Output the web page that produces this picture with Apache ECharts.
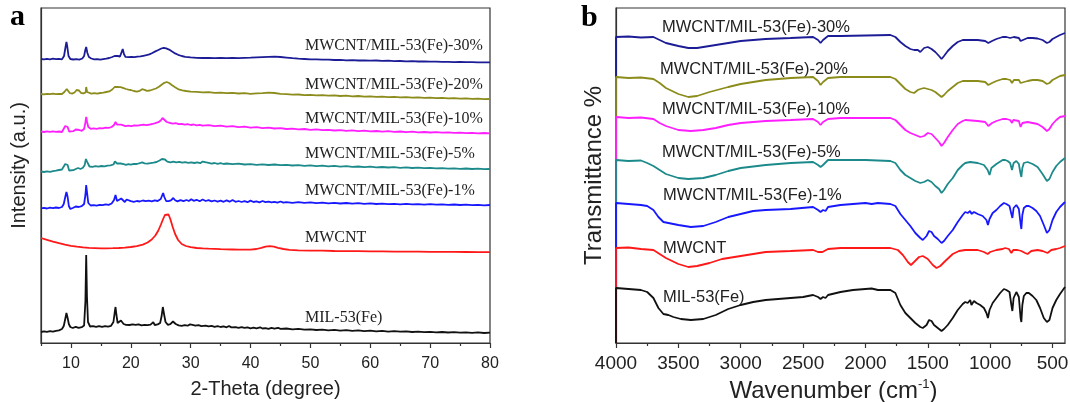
<!DOCTYPE html>
<html><head><meta charset="utf-8">
<script src="https://cdn.jsdelivr.net/npm/echarts@6/dist/echarts.min.js"></script>
<style>html,body{margin:0;padding:0;background:#fff}#c{width:1070px;height:402px}</style>
</head><body><div id="c"></div>
<script>
// ---------- DATA ----------
const seriesNames = ['MWCNT/MIL-53(Fe)-30%','MWCNT/MIL-53(Fe)-20%','MWCNT/MIL-53(Fe)-10%','MWCNT/MIL-53(Fe)-5%','MWCNT/MIL-53(Fe)-1%','MWCNT','MIL-53(Fe)'];
const seriesColors = ['#1c1c96','#8c8c1c','#ff1eff','#1c8a8a','#1818ff','#ff1818','#111111'];

const xrdTicks = [10,20,30,40,50,60,70,80];
const xrdMinorTicks = [5,15,25,35,45,55,65,75];
const irTicks = [4000,3500,3000,2500,2000,1500,1000,500];
const irMinorTicks = [3750,3250,2750,2250,1750,1250,750];

// XRD (2-theta, offset intensity a.u.)
const xrd30 = [[5,284],[5.5,283.6],[6,284.2],[6.5,283.7],[7,284.3],[7.5,283.8],[8,284.1],[8.5,283.6],[8.85,287],[9.1,296],[9.25,301],[9.4,296],[9.6,287],[9.9,284],[10.4,283.5],[10.9,283.8],[11.4,283.3],[11.9,284.5],[12.2,287],[12.4,293],[12.55,296],[12.75,290],[13,286],[13.4,284.5],[13.9,283.6],[14.4,283.9],[14.9,283.3],[15.4,283.8],[15.9,284.3],[16.4,285],[16.9,286],[17.3,287],[17.55,288.5],[17.8,287],[18.2,286.5],[18.45,288],[18.65,294],[18.85,289],[19.1,286.2],[19.6,285.8],[20.1,286.2],[20.6,285.9],[21.1,286.4],[21.6,286.6],[22.1,287.2],[22.6,287.8],[23.1,288.6],[23.6,290],[24.1,291.6],[24.6,293],[25.1,294.5],[25.5,295.2],[25.9,294.6],[26.4,293.4],[26.9,291.4],[27.4,289.6],[27.9,288.2],[28.5,287],[29.1,286.2],[30,285.6],[31,285.2],[32,285],[33,285.2],[34,284.9],[35,285],[36,284.8],[37,285.1],[38,284.9],[39,285.2],[40,285.3],[41,285.6],[42,285.9],[43,286.2],[44,286.3],[45,286],[46,285.4],[47,284.8],[48,284.3],[49,284],[50,283.6],[51,283.7],[52,283.3],[53,283.4],[54,283],[55,283.1],[56,282.7],[57,282.9],[58,282.5],[59,282.7],[60,282.3],[61,282.5],[62,282.1],[63,282.3],[64,281.9],[65,282],[66,281.7],[67,281.8],[68,281.5],[69,281.6],[70,281.3],[71,281.4],[72,281.1],[73,281.2],[74,280.9],[75,281],[76,280.8],[77,280.9],[78,280.6],[79,280.7],[80,280.6]];
const xrd20 = [[5,249],[5.5,248.6],[6,249.2],[6.5,248.8],[7,249.3],[7.5,248.9],[8,249.2],[8.5,249],[8.9,251],[9.15,253],[9.3,254],[9.5,252],[9.8,250],[10.2,249.4],[10.6,250.5],[10.95,253],[11.15,255],[11.35,252.5],[11.7,250],[12.1,249.6],[12.45,250.5],[12.55,256],[12.62,257],[12.7,251],[12.9,249.8],[13.4,249.4],[13.9,249.8],[14.4,249.3],[14.9,250],[15.4,250.3],[15.9,251],[16.4,251.6],[16.9,253.5],[17.3,256],[17.5,258],[17.7,256],[18,255],[18.3,255.8],[18.55,256],[18.8,254.8],[19.2,254],[19.6,253.4],[20,253],[20.5,252],[21,251.4],[21.5,252.2],[21.9,253.8],[22.3,253.2],[22.7,252.2],[23.2,252.5],[23.7,253.5],[24.2,254.5],[24.7,256.2],[25.2,258.5],[25.6,260.2],[26,261],[26.4,260],[26.9,257.8],[27.4,255.8],[28,253.6],[28.6,252.6],[29.2,252],[30,251.4],[31,251.2],[32,250.6],[33,250.8],[34,250.2],[35,250.4],[36,249.8],[37,250.1],[38,249.5],[39,249.8],[40,249.2],[41,249.6],[42,249.8],[43,250.3],[44,250],[45,249.2],[46,248.8],[47,248.3],[48,248.5],[49,247.9],[50,248.2],[51,247.6],[52,247.9],[53,247.3],[54,247.6],[55,247],[56,247.3],[57,246.7],[58,247],[59,246.4],[60,246.7],[61,246.1],[62,246.4],[63,245.9],[64,246.1],[65,245.6],[66,245.9],[67,245.3],[68,245.6],[69,245.1],[70,245.3],[71,244.9],[72,245.1],[73,244.6],[74,244.9],[75,244.4],[76,244.6],[77,244.1],[78,244.4],[79,243.9],[80,244]];
const xrd10 = [[5,211.5],[5.5,211],[6,211.6],[6.5,211.1],[7,211.7],[7.5,211.2],[8,211.5],[8.5,211],[8.8,213],[9.05,217],[9.25,219],[9.45,216],[9.7,211.5],[10,211],[10.4,211.8],[10.8,213.5],[11.1,215],[11.4,213],[11.8,212.2],[12.2,214],[12.4,220],[12.55,226],[12.7,221],[12.9,216],[13.3,214.2],[13.8,214.6],[14.3,214.2],[14.8,214.9],[15.3,214.6],[15.8,215.3],[16.3,215.1],[16.8,216],[17.2,218],[17.45,221],[17.7,218.5],[18,217],[18.4,218.3],[18.7,217.5],[19.1,216.8],[19.6,217.3],[20.1,216.9],[20.6,217.6],[21.1,217.3],[21.6,217.9],[22.1,218.3],[22.6,217.8],[23.1,218.4],[23.6,219],[24.1,219.8],[24.6,220.8],[25,222.5],[25.3,225],[25.6,223],[26,221],[26.5,220.2],[27,219.4],[27.5,219.8],[28,218.9],[28.5,219.2],[29,218.4],[29.5,218.8],[30,218],[30.5,218.5],[31,217.6],[31.5,218.1],[32,217.3],[33,217.8],[34,216.9],[35,217.3],[36,216.4],[37,216.8],[38,215.9],[39,216.3],[40,215.4],[41,215.8],[42,214.9],[43,215.3],[44,214.5],[45,214.8],[46,214],[47,214.4],[48,213.6],[49,214],[50,213.2],[51,213.6],[52,212.9],[53,213.2],[54,212.5],[55,212.9],[56,212.2],[57,212.6],[58,211.9],[59,212.3],[60,211.7],[61,212],[62,211.4],[63,211.8],[64,211.2],[65,211.5],[66,210.9],[67,211.3],[68,210.7],[69,211],[70,210.5],[71,210.8],[72,210.3],[73,210.6],[74,210.1],[75,210.4],[76,209.9],[77,210.2],[78,209.7],[79,210],[80,209.6]];
const xrd5 = [[5,171.5],[5.5,171],[6,171.6],[6.5,171.2],[7,171.9],[7.5,172.3],[8,173],[8.5,173.5],[8.8,175.5],[9.05,179],[9.25,181],[9.45,178],[9.7,172.5],[10,171.5],[10.4,172.8],[10.8,174],[11.2,175],[11.6,174],[12,175.2],[12.3,178],[12.5,184],[12.62,185],[12.8,180],[13.1,176.5],[13.6,176.2],[14.1,176.8],[14.6,176.3],[15.1,177],[15.6,176.6],[16.1,177.3],[16.6,177.6],[17.1,178.5],[17.35,181.5],[17.5,182.5],[17.7,179.5],[18,178],[18.3,179.5],[18.55,180.3],[18.8,178.8],[19.2,178.2],[19.6,178.9],[20,178.4],[20.5,179.2],[21,179],[21.5,179.8],[21.9,180.6],[22.3,179.6],[22.8,179.3],[23.3,179.8],[23.8,180.3],[24.3,181],[24.8,182.5],[25.2,184],[25.45,185],[25.7,183.5],[26.1,181.3],[26.6,180.6],[27.1,181.4],[27.6,180.7],[28.1,181.2],[28.6,180.3],[29.1,180.9],[29.6,180.2],[30.1,180.7],[30.6,180],[31.1,180.6],[31.6,179.8],[32,181.4],[32.3,179.7],[33,180.2],[33.5,179.4],[34,180],[34.5,179.2],[35,179.8],[35.5,179],[36,179.5],[37,178.8],[38,179.3],[39,178.5],[40,178.9],[41,178.2],[42,178.7],[43,178],[44,178.5],[45,177.8],[46,178.2],[47,177.5],[48,177.9],[49,177.2],[50,177.6],[51,176.9],[52,177.3],[53,176.7],[54,177.1],[55,176.4],[56,176.8],[57,176.2],[58,176.5],[59,175.9],[60,176.3],[61,175.7],[62,176],[63,175.5],[64,175.8],[65,175.2],[66,175.6],[67,175],[68,175.3],[69,174.8],[70,175.1],[71,174.6],[72,174.9],[73,174.4],[74,174.7],[75,174.2],[76,174.5],[77,174],[78,174.3],[79,173.8],[80,174]];
const xrd1 = [[5,134.7],[5.5,135.2],[6,134.5],[6.5,135.3],[7,134.8],[7.5,135.5],[8,135],[8.5,136],[8.8,139],[9.05,146],[9.25,151],[9.45,146],[9.65,137],[9.9,134],[10.3,135],[10.8,136.5],[11.3,136],[11.8,136.8],[12.2,139],[12.42,148],[12.55,158],[12.7,150],[12.9,140],[13.3,137.5],[13.8,137.8],[14.3,137.3],[14.8,138.2],[15.3,137.8],[15.8,138.6],[16.3,138.2],[16.8,139.5],[17.2,143],[17.45,148],[17.7,142],[18,141],[18.4,144.5],[18.7,142.5],[19,141],[19.3,143.5],[19.6,141.5],[20,141.8],[20.5,141.2],[21,142],[21.5,141.5],[22,142.5],[22.5,141.8],[23,142.3],[23.5,141.7],[24,142.6],[24.5,142],[25,144],[25.2,147],[25.4,150],[25.6,146],[25.9,142],[26.3,141.8],[26.7,142.6],[27.1,145],[27.4,142.8],[27.8,141.6],[28.3,142.8],[28.8,141.8],[29.3,143],[29.7,142],[30.1,143.8],[30.5,142.2],[31,143.2],[31.5,141.8],[32,143.5],[32.5,142],[33,142.8],[33.5,141.6],[34,142.5],[34.5,141.4],[35,142.3],[35.5,141.2],[36,142.6],[36.5,141.3],[37,143],[37.5,141.2],[38,142],[38.5,141],[39,141.8],[39.5,140.8],[40,142.4],[40.5,141],[41,141.6],[41.5,140.7],[42,142],[42.5,140.8],[43,141.4],[43.5,140.6],[44,141.2],[44.5,140.4],[45,141.5],[45.5,140.3],[46,140.9],[47,140.2],[48,140.8],[49,140.1],[50,140.6],[51,139.9],[52,140.4],[53,139.7],[54,140.2],[55,139.5],[56,140],[57,139.4],[58,139.8],[59,139.2],[60,139.6],[61,139],[62,139.4],[63,138.8],[64,139.2],[65,138.7],[66,139.1],[67,138.6],[68,138.9],[69,138.4],[70,138.8],[71,138.3],[72,138.6],[73,138.1],[74,138.5],[75,138],[76,138.3],[77,137.9],[78,138.2],[79,137.7],[80,138]];
const xrdMWCNT = [[5,105],[6,103.2],[7,101.4],[8,99.8],[9,98.4],[10,97.2],[11,96.3],[12,95.6],[13,95.2],[14,94.9],[15,94.6],[16,94.7],[17,94.8],[18,95],[19,95.4],[20,96],[21,96.9],[22,98.4],[22.8,100.5],[23.5,103.5],[24.1,107.5],[24.6,112.5],[25,118],[25.4,124],[25.7,128],[26,130],[26.3,128.5],[26.6,124],[27,116],[27.4,109],[27.9,103],[28.5,99],[29.2,97],[30,95.8],[31,95],[32,94.6],[33,94.3],[34,94.1],[35,93.8],[36,93.6],[37,93.5],[38,93.4],[39,93.3],[40,93.4],[41,94],[41.8,95.2],[42.5,96.3],[43.2,96.8],[43.9,96.4],[44.6,95.2],[45.5,94],[46.5,93.2],[48,92.7],[50,92.4],[52,92.3],[54,92],[56,91.9],[58,91.8],[60,91.6],[62,91.6],[64,91.4],[66,91.4],[68,91.3],[70,91.2],[72,91.1],[74,91.1],[76,91],[78,90.9],[80,90.8]];
const xrdMIL53 = [[5,11],[5.5,11.6],[6,11.2],[6.5,11.8],[7,11.3],[7.5,12.2],[8,12.6],[8.5,14],[8.8,17],[9.05,24],[9.25,30],[9.45,25],[9.65,19],[9.9,16],[10.3,15],[10.8,16.2],[11.3,15.2],[11.8,15.8],[12.2,17.5],[12.42,42],[12.55,88],[12.68,46],[12.85,21],[13.2,16.5],[13.7,16.8],[14.2,16.2],[14.7,16.9],[15.2,16.1],[15.7,16.8],[16.2,16.3],[16.7,17.2],[17.1,21],[17.3,30],[17.45,36],[17.6,28],[17.8,20],[18.1,20.5],[18.35,22.5],[18.55,21.5],[18.8,19],[19.2,18.2],[19.5,19.6],[19.8,18],[20.3,18.6],[20.8,18.1],[21.3,18.7],[21.8,17.6],[22.3,18.2],[22.8,17.8],[23.3,18.4],[23.75,20.8],[24,18],[24.5,18.6],[24.9,20],[25.15,27],[25.35,36],[25.55,29],[25.8,21],[26.2,18.2],[26.6,18.8],[27.05,21.5],[27.25,22],[27.5,19],[28,17.6],[28.5,17.2],[29,17.8],[29.5,17.3],[29.9,18.6],[30.3,18.2],[30.8,17.4],[31.3,17.9],[31.8,16.9],[32.5,17.3],[33,16.6],[33.5,17.1],[34,16.2],[34.5,16.8],[35,16],[35.5,16.6],[36,15.7],[36.4,17],[36.8,15.6],[37.5,15.9],[38,15.2],[38.5,15.8],[39,15.1],[39.5,15.6],[40,14.7],[40.5,15.3],[41,14.6],[41.6,15.7],[42,14.5],[42.5,14.9],[43,14.2],[43.5,15.1],[44,14.3],[44.6,15.2],[45,14.1],[46,14.5],[47,13.6],[48,14.1],[49,13.4],[50,13.7],[51,13],[52,13.4],[53,12.7],[54,13.1],[55,12.4],[56,12.8],[57,12.1],[58,12.6],[59,11.9],[60,12.3],[61,11.7],[62,12.1],[63,11.4],[64,11.9],[65,11.3],[66,11.6],[67,11],[68,11.4],[69,10.8],[70,11.2],[71,10.6],[72,11],[73,10.5],[74,10.9],[75,10.3],[76,10.7],[77,10.2],[78,10.6],[79,10],[80,10.3]];

// FTIR (wavenumber cm-1, offset transmittance)
const ir30 = [[4000,0],[4000,306],[3900,306.5],[3800,305.5],[3700,306],[3650,303],[3600,300],[3500,297],[3420,295],[3350,295],[3250,297],[3100,300],[3000,302],[2800,304],[2600,305],[2420,306],[2380,303],[2360,300],[2340,303],[2300,307],[2200,307],[2000,307.5],[1800,308],[1760,306],[1720,301],[1680,297],[1640,294],[1610,293],[1580,293],[1560,291],[1530,295],[1500,296],[1470,294],[1440,291],[1410,287],[1390,284],[1370,287],[1340,292],[1300,297],[1260,301],[1220,303],[1200,303],[1100,303],[1040,302],[1015,300],[1000,300],[985,302],[950,304],[900,306],[870,306],[840,305],[825,303],[810,306],[770,305],[756,302],[750,301],[742,304],[700,305],[660,305],[620,304.5],[580,303],[545,300],[525,301],[500,304],[470,306],[440,308],[400,310]];
const ir20 = [[4000,0],[4000,266],[3900,265],[3800,265.5],[3700,264],[3650,260],[3600,255],[3500,249],[3420,246],[3350,247],[3250,251],[3100,256],[3000,259],[2800,263],[2600,265],[2420,266],[2380,262],[2360,258],[2340,261],[2300,265],[2200,266],[2000,266],[1800,266],[1760,264],[1720,259],[1680,254],[1640,251],[1610,250],[1580,253],[1560,254],[1530,255],[1500,254],[1470,253],[1440,251],[1410,248],[1390,246],[1370,248],[1340,252],[1300,256],[1260,260],[1220,262],[1200,262],[1100,262],[1040,261],[1015,258],[1000,257],[985,260],[950,262],[900,264],[870,264],[840,263],[825,260],[810,263],[770,263],[756,260],[750,259],[742,262],[700,262],[660,263],[620,263],[580,262],[545,259],[525,260],[500,263],[470,265],[440,267],[400,268]];
const ir10 = [[4000,0],[4000,226],[3900,225],[3800,225.5],[3700,224],[3650,220],[3600,217],[3500,213],[3400,212],[3300,213],[3200,215],[3100,218],[3000,220],[2800,222],[2600,223],[2420,224],[2380,221],[2360,218],[2340,221],[2300,224],[2200,225],[2000,225],[1800,225],[1760,223],[1720,218],[1680,213],[1640,210],[1600,208],[1560,206],[1530,207],[1500,210],[1470,209],[1440,205],[1410,201],[1390,197],[1370,200],[1340,206],[1300,213],[1260,219],[1220,222],[1200,223],[1100,222],[1040,221],[1015,217],[1000,216],[985,220],[950,222],[900,224],[870,224],[840,223],[825,220],[815,223],[770,222],[756,216],[750,214],[742,220],[730,222],[700,221],[660,220],[620,219],[580,216],[545,212],[525,214],[500,219],[470,223],[440,226],[400,227]];
const ir5 = [[4000,0],[4000,183],[3900,182],[3800,182.5],[3750,180],[3700,177],[3650,173],[3600,169],[3500,165],[3420,164],[3300,165],[3200,168],[3100,172],[3000,175],[2800,178],[2600,180],[2420,181],[2380,178],[2360,176],[2340,178],[2300,183],[2200,183],[2000,183],[1800,182],[1760,180],[1720,173],[1680,168],[1640,165],[1600,162],[1560,160],[1530,161],[1500,163],[1470,161],[1440,157],[1410,154],[1390,150],[1370,153],[1340,159],[1300,165],[1260,173],[1220,178],[1200,180],[1160,181],[1150,179],[1100,180],[1050,178],[1020,173],[1005,168],[990,175],[950,179],[900,183],[880,183],[860,182],[840,180],[825,173],[812,180],[790,182],[770,179],[756,169],[750,166],[742,175],[730,180],[700,181],[660,179],[620,176],[580,169],[545,162],[525,164],[500,171],[470,177],[440,181],[400,185]];
const ir1 = [[4000,0],[4000,140],[3900,139],[3800,138],[3750,137],[3700,133],[3660,126],[3620,121],[3580,120],[3500,118],[3400,116],[3300,117],[3200,121],[3100,126],[3000,129],[2900,132],[2800,133],[2600,134],[2420,136],[2380,133],[2360,131],[2340,133],[2320,132],[2300,136],[2200,138],[2000,140],[1950,139],[1900,140],[1800,139],[1760,137],[1720,129],[1680,123],[1640,117],[1600,110],[1560,105],[1540,103],[1510,107],[1490,112],[1470,111],[1450,107],[1420,104],[1390,100],[1370,102],[1340,107],[1300,113],[1260,121],[1220,128],[1200,131],[1180,130],[1160,132],[1150,129],[1130,131],[1100,129],[1060,127],[1030,123],[1018,118],[1005,124],[980,130],[950,133],[920,137],[890,140],[870,139],[860,140],[845,137],[830,129],[822,125],[812,135],[790,138],[770,134],[756,119],[750,114],[742,128],[730,135],[710,137],[690,137],[660,135],[630,132],[600,127],[570,118],[545,110],[525,113],[500,123],[470,131],[440,136],[400,141]];
const irMWCNT = [[4000,0],[4000,95],[3900,95.5],[3800,94],[3700,93],[3650,89],[3600,85],[3500,79],[3420,76],[3350,77],[3250,80],[3150,84],[3000,87],[2900,89],[2800,91],[2600,92],[2420,93],[2380,91],[2365,89],[2345,91],[2330,90],[2300,94],[2200,95],[2000,95],[1800,95],[1740,93],[1700,88],[1660,81],[1635,78],[1610,81],[1570,86],[1540,87],[1500,84],[1460,78],[1430,75],[1400,77],[1360,82],[1300,89],[1250,92],[1200,93],[1100,93],[1050,91],[1020,89],[1000,91],[950,93],[900,94],[880,95],[850,94],[830,90],[815,93],[780,93],[750,92],[720,90],[700,89],[670,92],[620,93],[580,92],[540,90],[510,93],[470,94],[440,95],[400,97]];
const irMIL53 = [[4000,0],[4000,55],[3900,54],[3800,53],[3750,51],[3700,45],[3660,35],[3620,29],[3580,28],[3540,26],[3480,24],[3400,23],[3300,24],[3200,28],[3100,34],[3000,38],[2900,41],[2800,43],[2700,44],[2600,45],[2500,46],[2420,48],[2380,46],[2360,44],[2340,46],[2320,45],[2300,48],[2200,51],[2100,53],[2000,54],[1950,54.5],[1900,53],[1800,53],[1760,50],[1720,38],[1680,30],[1640,25],[1600,20],[1560,16],[1540,15],[1510,18],[1490,23],[1470,22],[1450,18],[1420,15],[1390,12],[1370,14],[1340,18],[1300,25],[1260,33],[1220,39],[1200,41],[1180,40],[1160,43],[1150,38],[1130,42],[1110,40],[1080,38],[1050,35],[1030,30],[1018,25],[1005,33],[980,40],[950,45],[920,50],[890,54],[870,53],[860,55],[845,51],[830,38],[822,32],[812,45],[790,51],[770,46],[756,25],[750,21],[742,38],[730,47],[710,50],[690,50],[660,47],[630,43],[600,35],[570,25],[545,21],[525,23],[500,35],[470,43],[440,49],[400,56]];

const xrdSeries = [xrd30, xrd20, xrd10, xrd5, xrd1, xrdMWCNT, xrdMIL53];
const irSeries = [ir30, ir20, ir10, ir5, ir1, irMWCNT, irMIL53];

// ---------- CHART ----------
const sans = "'Liberation Sans', Arial, sans-serif";
const serif = "'Liberation Serif', 'Times New Roman', serif";
const axisCol = '#333';
const chart = echarts.init(document.getElementById('c'), null, {renderer: 'canvas'});

const series = [];
xrdSeries.forEach((d, i) => series.push({
  type: 'line', name: seriesNames[i], xAxisIndex: 0, yAxisIndex: 0, data: d,
  symbol: 'none', lineStyle: {color: seriesColors[i], width: 1.8}, silent: true
}));
irSeries.forEach((d, i) => series.push({
  type: 'line', name: seriesNames[i] + ' IR', xAxisIndex: 2, yAxisIndex: 1, data: d,
  symbol: 'none', lineStyle: {color: seriesColors[i], width: 1.8}, silent: true
}));

const labelsA = [
  {t: seriesNames[0], y: 46}, {t: seriesNames[1], y: 85}, {t: seriesNames[2], y: 119},
  {t: seriesNames[3], y: 154}, {t: seriesNames[4], y: 191}, {t: seriesNames[5], y: 238},
  {t: seriesNames[6], y: 318}
];
const labelsB = [
  {t: seriesNames[0], x: 662, y: 27}, {t: seriesNames[1], x: 660, y: 69}, {t: seriesNames[2], x: 662, y: 109},
  {t: seriesNames[3], x: 662, y: 152}, {t: seriesNames[4], x: 663, y: 195}, {t: seriesNames[5], x: 663, y: 248},
  {t: seriesNames[6], x: 663, y: 297}
];
const graphics = [];
labelsA.forEach(l => graphics.push({type: 'text', x: 305, y: l.y, silent: true,
  style: {text: l.t, font: '16px ' + serif, fill: '#222', textVerticalAlign: 'middle'}}));
labelsB.forEach(l => graphics.push({type: 'text', x: l.x, y: l.y, silent: true,
  style: {text: l.t, font: '16.5px ' + sans, fill: '#222', textVerticalAlign: 'middle'}}));
graphics.push({type: 'text', x: 10, y: 32, silent: true, style: {text: 'a', font: 'bold 30px ' + serif, fill: '#000', textVerticalAlign: 'bottom'}});
graphics.push({type: 'text', x: 581, y: 33, silent: true, style: {text: 'b', font: 'bold 30px ' + serif, fill: '#000', textVerticalAlign: 'bottom'}});

const plain = v => String(v);

const option = {
  animation: false,
  backgroundColor: '#fff',
  grid: [
    {left: 41, right: 580, top: 8, bottom: 59, show: true, borderColor: axisCol, borderWidth: 1.2, outerBoundsMode: 'none', containLabel: false},
    {left: 616, right: 5, top: 8, bottom: 59, show: true, borderColor: axisCol, borderWidth: 1.2, outerBoundsMode: 'none', containLabel: false}
  ],
  xAxis: [
    {gridIndex: 0, type: 'value', position: 'bottom', min: 5, max: 80,
     axisLine: {lineStyle: {color: axisCol, width: 1.2}},
     axisTick: {customValues: xrdTicks, length: 5, lineStyle: {color: axisCol, width: 1.2}},
     axisLabel: {customValues: xrdTicks, formatter: plain, fontSize: 16, color: '#222', margin: 13, fontFamily: sans},
     splitLine: {show: false},
     name: '2-Theta (degree)', nameLocation: 'middle', nameGap: 36,
     nameTextStyle: {fontSize: 20, color: '#222', fontFamily: sans}},
    {gridIndex: 0, type: 'value', position: 'bottom', min: 5, max: 80,
     axisLine: {show: false},
     axisTick: {customValues: xrdMinorTicks, length: 3, lineStyle: {color: axisCol, width: 1.2}},
     axisLabel: {show: false}, splitLine: {show: false}},
    {gridIndex: 1, type: 'value', position: 'bottom', min: 400, max: 4000, inverse: true,
     axisLine: {lineStyle: {color: axisCol, width: 1.2}},
     axisTick: {customValues: irTicks, length: 5, lineStyle: {color: axisCol, width: 1.2}},
     axisLabel: {customValues: irTicks, formatter: plain, fontSize: 19, color: '#222', margin: 11, fontFamily: sans},
     splitLine: {show: false},
     name: '{t|Wavenumber (cm}{s|-1}{t|)}', nameLocation: 'middle', nameGap: 33,
     nameTextStyle: {color: '#222', fontFamily: sans, padding: [0, 14, 0, 0],
       rich: {t: {fontSize: 24, fontFamily: sans, color: '#222', lineHeight: 26},
              s: {fontSize: 13, fontFamily: sans, color: '#222', verticalAlign: 'top', lineHeight: 26}}}},
    {gridIndex: 1, type: 'value', position: 'bottom', min: 400, max: 4000, inverse: true,
     axisLine: {show: false},
     axisTick: {customValues: irMinorTicks, length: 3, lineStyle: {color: axisCol, width: 1.2}},
     axisLabel: {show: false}, splitLine: {show: false}}
  ],
  yAxis: [
    {gridIndex: 0, type: 'value', min: 0, max: 335,
     axisLine: {show: true, lineStyle: {color: axisCol, width: 1.2}},
     axisTick: {show: false}, axisLabel: {show: false}, splitLine: {show: false},
     name: 'Intensity (a.u.)', nameLocation: 'middle', nameGap: 12, nameRotate: 90,
     nameTextStyle: {fontSize: 20, color: '#222', fontFamily: sans, padding: [0, 0, 0, 20]}},
    {gridIndex: 1, type: 'value', min: 0, max: 335,
     axisLine: {show: true, lineStyle: {color: axisCol, width: 1.2}},
     axisTick: {show: false}, axisLabel: {show: false}, splitLine: {show: false},
     name: 'Transmittance %', nameLocation: 'middle', nameGap: 10, nameRotate: 90,
     nameTextStyle: {fontSize: 24, color: '#222', fontFamily: sans}}
  ],
  series: series,
  graphic: graphics
};
chart.setOption(option);
</script></body></html>
